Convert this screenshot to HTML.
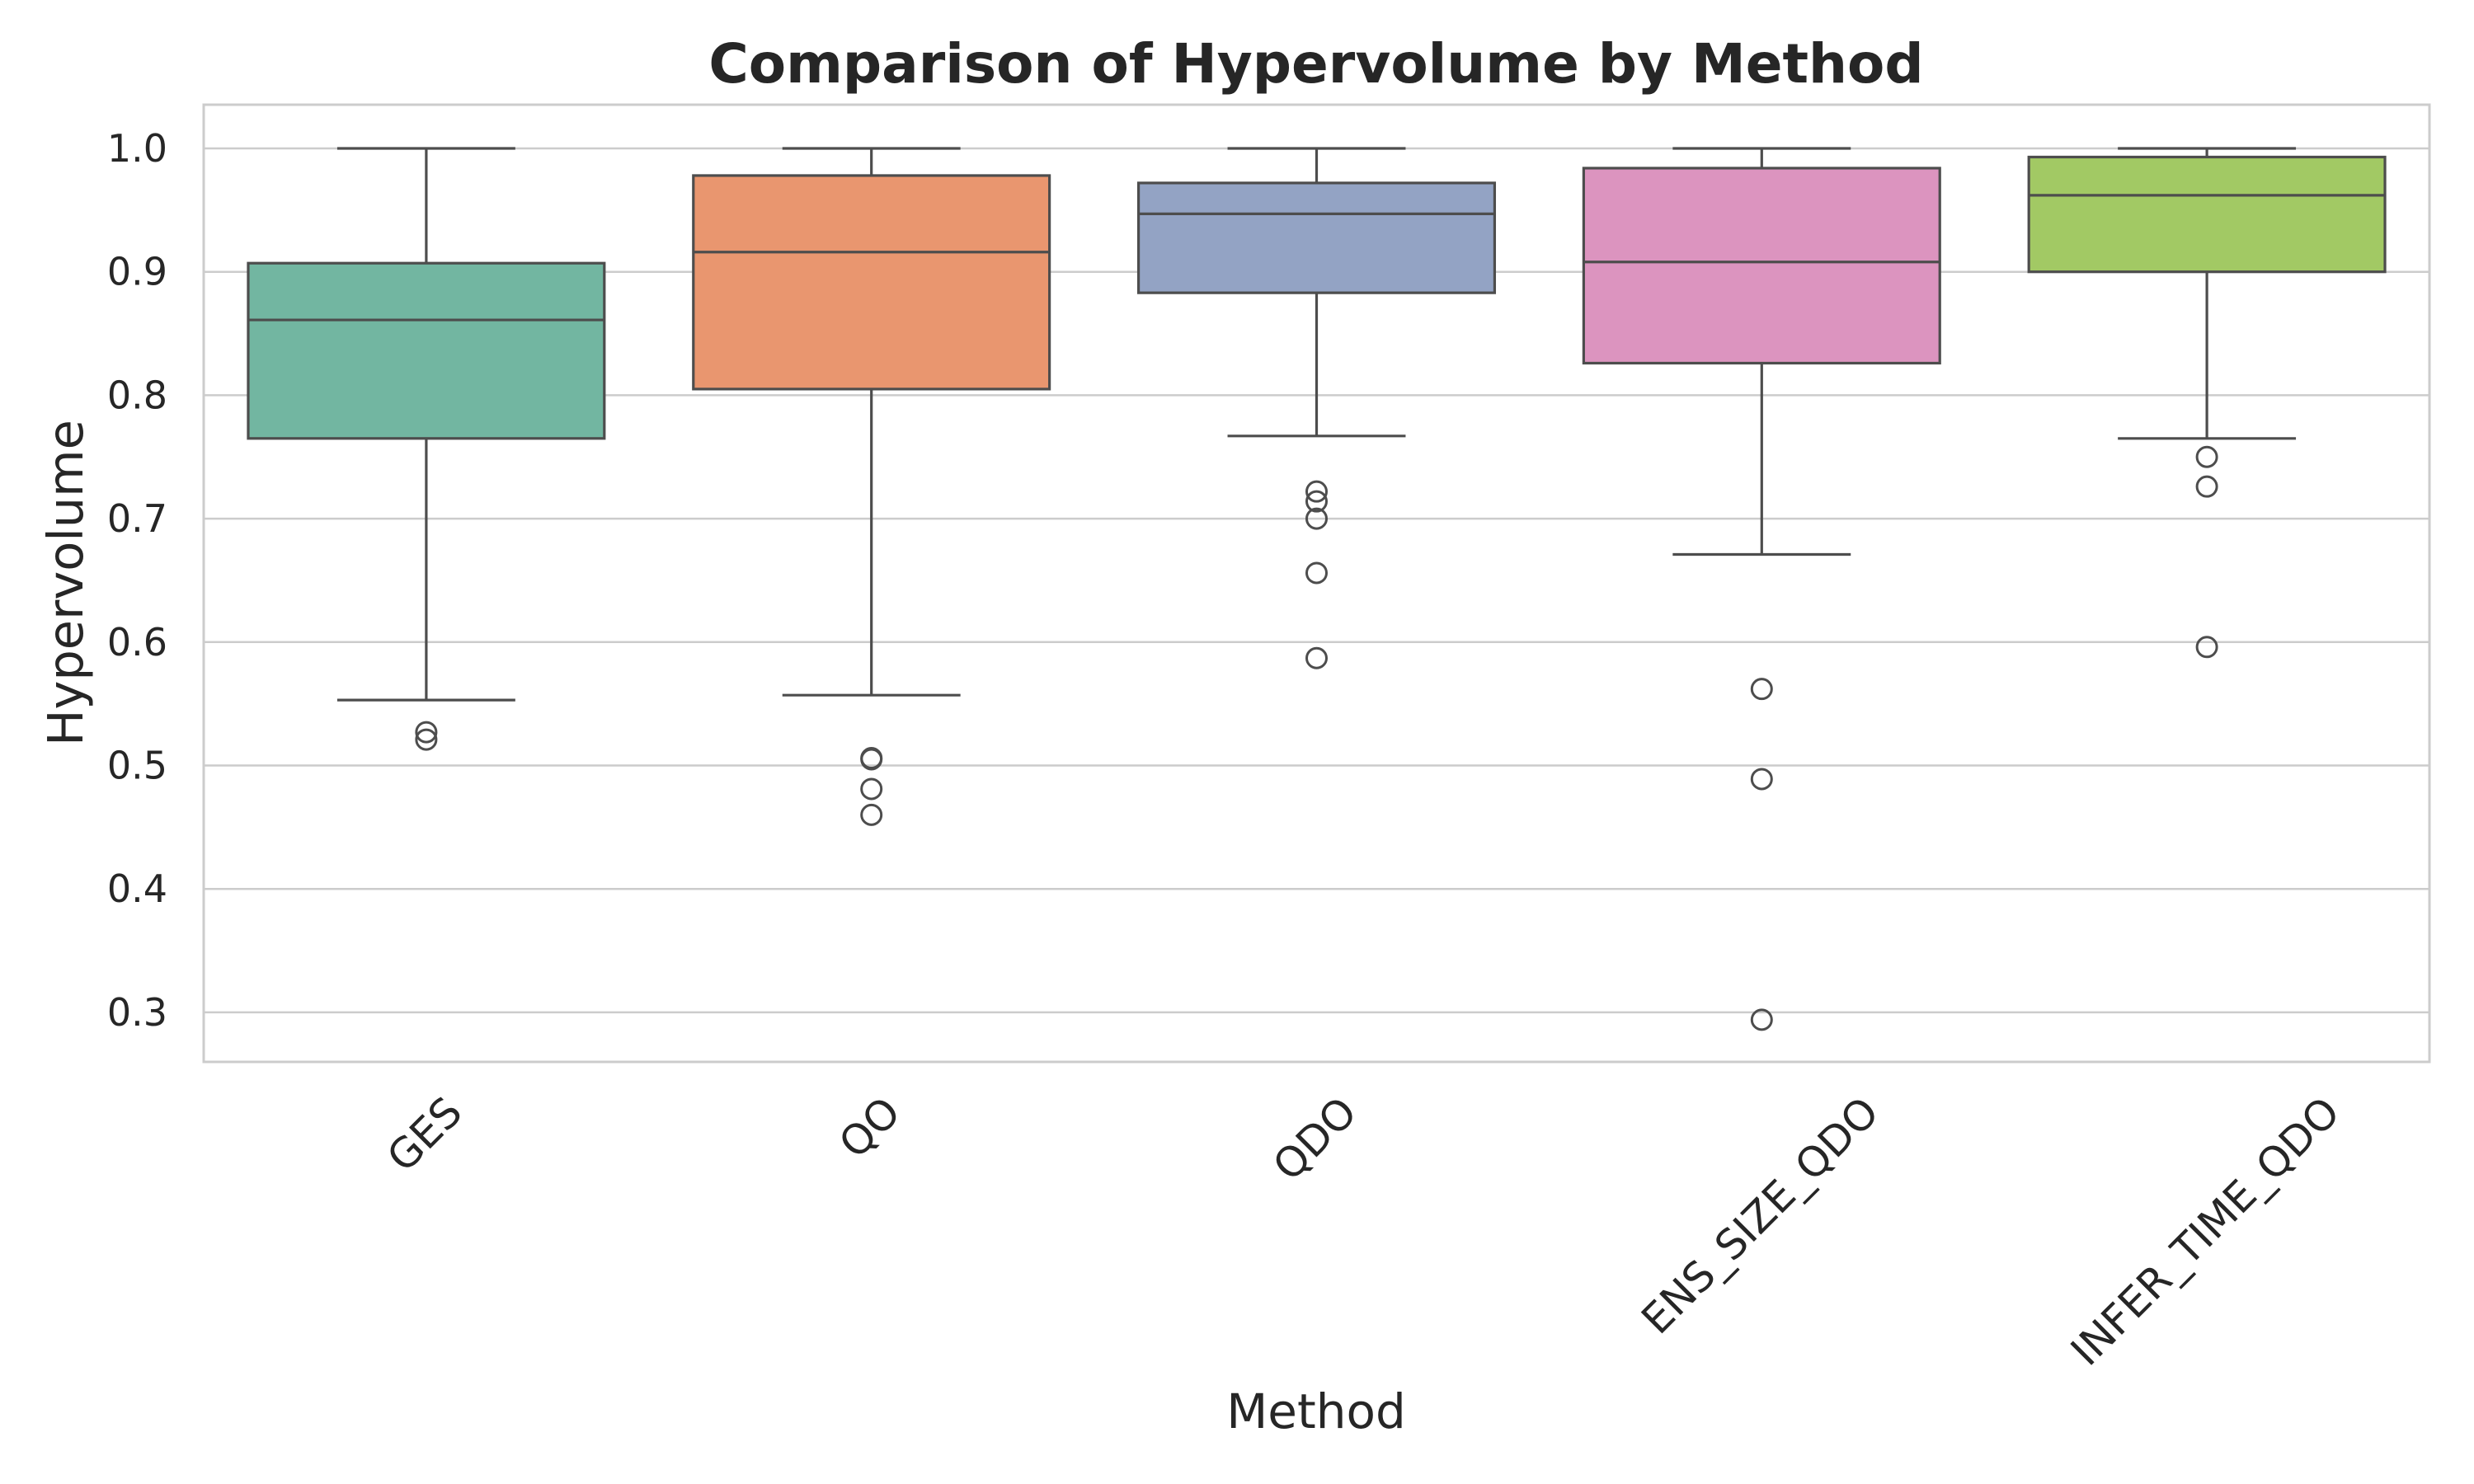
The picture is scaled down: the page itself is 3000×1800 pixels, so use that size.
<!DOCTYPE html>
<html><head><meta charset="utf-8"><style>
body{margin:0;background:#fff}
svg{display:block;font-family:"DejaVu Sans","Liberation Sans",sans-serif}
</style></head><body>
<svg id="chart" width="3000" height="1800" viewBox="0 0 3000 1800" xmlns="http://www.w3.org/2000/svg">
<rect width="3000" height="1800" fill="#fff"/>
<text x="1596" y="100" text-anchor="middle" font-size="66" font-weight="bold" fill="#262626">Comparison of Hypervolume by Method</text>
<g id="grid"></g>
<g id="boxes"></g>
<rect x="247" y="127" width="2699" height="1161" fill="none" stroke="#cccccc" stroke-width="3"/>
<g id="ticks"></g>
<text transform="translate(100,707) rotate(-90)" text-anchor="middle" font-size="59" fill="#262626">Hypervolume</text>
<text x="1596" y="1732" text-anchor="middle" font-size="58" fill="#262626">Method</text>
</svg>
<script>
const categories = ["GES","QO","QDO","ENS_SIZE_QDO","INFER_TIME_QDO"];
const whiskerLow = [0.553,0.557,0.767,0.671,0.765];
const q1 = [0.765,0.805,0.883,0.826,0.900];
const median = [0.861,0.916,0.947,0.908,0.962];
const q3 = [0.907,0.978,0.972,0.984,0.993];
const whiskerHigh = [1.0,1.0,1.0,1.0,1.0];
const outliers = [[0.527,0.521],[0.506,0.505,0.481,0.460],[0.722,0.714,0.700,0.656,0.587],[0.562,0.489,0.294],[0.750,0.726,0.596]];
const yTicks = [0.3,0.4,0.5,0.6,0.7,0.8,0.9,1.0];
const colors = ["#72b6a1","#e9966f","#93a3c4","#dc94bf","#a2c964"];

const NS="http://www.w3.org/2000/svg";
const left=247,right=2946;
const y=v=>180+(1.0-v)*1497;
const step=(right-left)/categories.length;
const xc=i=>left+step*(i+0.5);
const bw=step*0.8;
function mk(tag,attrs,parent){const e=document.createElementNS(NS,tag);for(const k in attrs)e.setAttribute(k,attrs[k]);parent.appendChild(e);return e;}
const grid=document.getElementById('grid'),boxes=document.getElementById('boxes'),ticks=document.getElementById('ticks');
yTicks.forEach(t=>{
  const l=mk('line',{x1:left,x2:right,y1:y(t),y2:y(t),stroke:'#cccccc','stroke-width':2.5},grid);
  
  
  const tx=mk('text',{x:left-44,y:y(t)+16,'text-anchor':'end','font-size':46,fill:'#262626'},ticks);
  tx.textContent=t.toFixed(1);
  
  
});
const lc='#4d4d4d',lw=3.2;
categories.forEach((c,i)=>{
  const cx=xc(i);
  const g=mk('g',{},boxes);
  
  
  mk('line',{x1:cx,x2:cx,y1:y(whiskerHigh[i]),y2:y(q3[i]),stroke:lc,'stroke-width':lw},g);
  mk('line',{x1:cx,x2:cx,y1:y(q1[i]),y2:y(whiskerLow[i]),stroke:lc,'stroke-width':lw},g);
  mk('line',{x1:cx-bw/4,x2:cx+bw/4,y1:y(whiskerHigh[i]),y2:y(whiskerHigh[i]),stroke:lc,'stroke-width':lw},g);
  mk('line',{x1:cx-bw/4,x2:cx+bw/4,y1:y(whiskerLow[i]),y2:y(whiskerLow[i]),stroke:lc,'stroke-width':lw},g);
  mk('rect',{x:cx-bw/2,y:y(q3[i]),width:bw,height:y(q1[i])-y(q3[i]),fill:colors[i],stroke:lc,'stroke-width':lw},g);
  mk('line',{x1:cx-bw/2,x2:cx+bw/2,y1:y(median[i]),y2:y(median[i]),stroke:lc,'stroke-width':lw},g);
  outliers[i].forEach(v=>{
    const o=mk('circle',{cx:cx,cy:y(v),r:12,fill:'none',stroke:lc,'stroke-width':3},g);
    
    
  });
  const t=mk('text',{'text-anchor':'end','font-size':50,fill:'#262626'},ticks);
  t.textContent=c;
  
  
  const L=t.getComputedTextLength();
  const ex=cx+L*0.354+10, ey=1352;
  t.setAttribute('transform','translate('+ex+','+ey+') rotate(-45)');
});
</script>
</body></html>
